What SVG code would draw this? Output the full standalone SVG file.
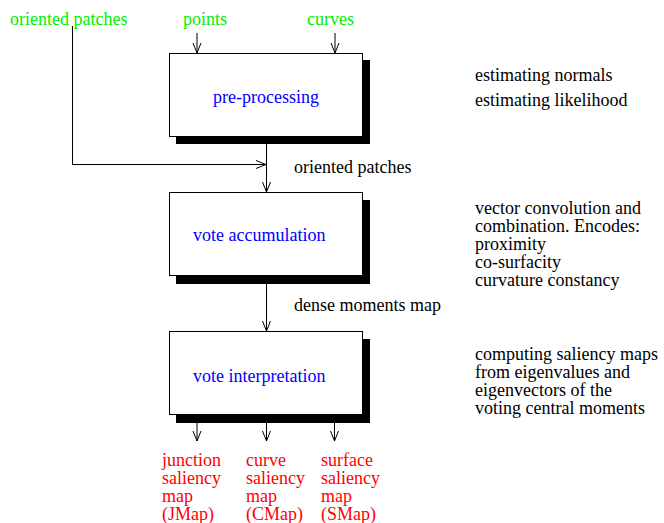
<svg xmlns="http://www.w3.org/2000/svg" width="664" height="523" viewBox="0 0 664 523">
<defs>
<marker id="ah" viewBox="0 0 10 10" refX="10" refY="5" markerWidth="10" markerHeight="10" markerUnits="userSpaceOnUse" orient="auto">
<path d="M0,1 L10,5 L0,9" fill="none" stroke="#000" stroke-width="1"/>
</marker>
</defs>
<rect width="664" height="523" fill="#fff"/>
<g id="inputs" fill="#00ee00" font-family="Times New Roman, Liberation Serif, serif" font-size="18">
<text x="10" y="25">oriented patches</text>
<text x="183" y="25">points</text>
<text x="307" y="25">curves</text>
</g>
<g id="preprocessing">
<rect x="176" y="60" width="194" height="84" fill="#000"/>
<rect x="169.5" y="53.5" width="193" height="83" fill="#fff" stroke="#000"/>
<text x="266" y="103" text-anchor="middle" fill="#0000ff" font-family="Times New Roman, Liberation Serif, serif" font-size="18">pre-processing</text>
</g>
<g id="voteaccumulation">
<rect x="176" y="200" width="194" height="84" fill="#000"/>
<rect x="169.5" y="192.5" width="193" height="83" fill="#fff" stroke="#000"/>
<text x="193" y="241" fill="#0000ff" font-family="Times New Roman, Liberation Serif, serif" font-size="18">vote accumulation</text>
</g>
<g id="voteinterpretation">
<rect x="176" y="339" width="194" height="84" fill="#000"/>
<rect x="169.5" y="331.5" width="193" height="83" fill="#fff" stroke="#000"/>
<text x="193" y="382" fill="#0000ff" font-family="Times New Roman, Liberation Serif, serif" font-size="18">vote interpretation</text>
</g>
<g id="outputs" fill="#ff0000" font-family="Times New Roman, Liberation Serif, serif" font-size="18">
<text x="162" y="466">junction</text>
<text x="162" y="484">saliency</text>
<text x="162" y="502">map</text>
<text x="162" y="520">(JMap)</text>
<text x="246" y="466">curve</text>
<text x="246" y="484">saliency</text>
<text x="246" y="502">map</text>
<text x="246" y="520">(CMap)</text>
<text x="321" y="466">surface</text>
<text x="321" y="484">saliency</text>
<text x="321" y="502">map</text>
<text x="321" y="520">(SMap)</text>
</g>
<g id="descriptions" fill="#000" font-family="Times New Roman, Liberation Serif, serif" font-size="18">
<text x="475" y="81">estimating normals</text>
<text x="475" y="106">estimating likelihood</text>
<text x="475" y="214">vector convolution and</text>
<text x="475" y="232">combination. Encodes:</text>
<text x="475" y="250">proximity</text>
<text x="475" y="268">co-surfacity</text>
<text x="475" y="286">curvature constancy</text>
<text x="475" y="360">computing saliency maps</text>
<text x="475" y="378">from eigenvalues and</text>
<text x="475" y="396">eigenvectors of the</text>
<text x="475" y="414">voting central moments</text>
</g>
<g id="edgelabels" fill="#000" font-family="Times New Roman, Liberation Serif, serif" font-size="18">
<text x="294" y="173">oriented patches</text>
<text x="294" y="311">dense moments map</text>
</g>
<g id="connectors" stroke="#000" stroke-width="1" fill="none">
<line x1="197" y1="33" x2="197" y2="53" marker-end="url(#ah)"/>
<line x1="335" y1="33" x2="335" y2="53" marker-end="url(#ah)"/>
<polyline points="72.5,26 72.5,164.5 266,164.5" marker-end="url(#ah)"/>
<line x1="266.5" y1="144" x2="266.5" y2="192" marker-end="url(#ah)"/>
<line x1="266.5" y1="284" x2="266.5" y2="331" marker-end="url(#ah)"/>
<line x1="197" y1="423" x2="197" y2="441" marker-end="url(#ah)"/>
<line x1="266.5" y1="423" x2="266.5" y2="441" marker-end="url(#ah)"/>
<line x1="334.5" y1="423" x2="334.5" y2="441" marker-end="url(#ah)"/>
</g>
</svg>
